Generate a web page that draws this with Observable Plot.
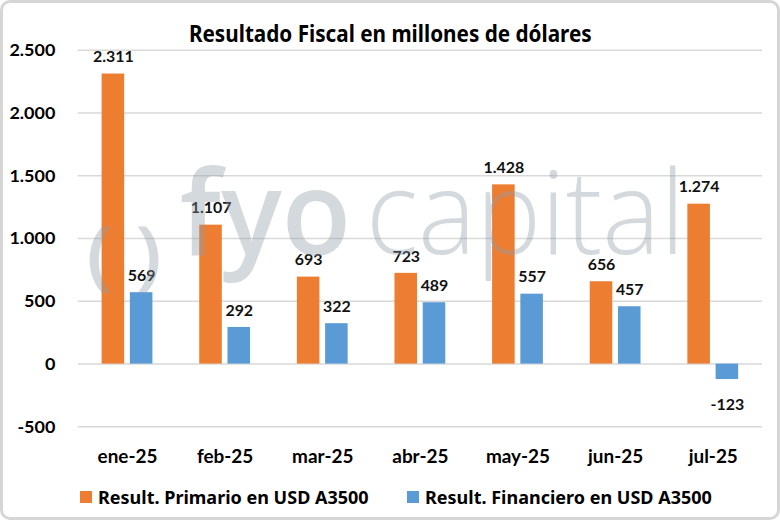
<!DOCTYPE html>
<html>
<head>
<meta charset="utf-8">
<script src="https://cdn.jsdelivr.net/npm/d3@7"></script>
<script src="https://cdn.jsdelivr.net/npm/@observablehq/plot@0.6"></script>
<style>
  html, body { margin: 0; padding: 0; background: #fff; }
  #wrap {
    position: relative; width: 780px; height: 520px; box-sizing: border-box;
    border: 3px solid #d6d6d6; border-radius: 10px; overflow: hidden; background: #fff;
  }
  #title {
    position: absolute; left: 0; right: 0; top: 15px; text-align: center;
    font-family: "Noto Sans", sans-serif;
    font-weight: bold; font-size: 23px; color: #000; line-height: 30px;
    transform: scaleX(0.9); transform-origin: 390px 50%;
  }
  #chart { position: absolute; left: -3px; top: -3px; }
  #legend {
    position: absolute; top: 481px; left: 0; width: 780px; height: 26px;
    font-family: "Noto Sans", sans-serif;
    font-weight: bold; font-size: 18px; color: #000;
  }
  .item { position: absolute; top: 0; display: flex; align-items: center; height: 26px; }
  .sw { width: 12px; height: 12px; margin-right: 6px; }
</style>
</head>
<body>
<div id="wrap">
  <div id="chart"></div>
  <div id="title">Resultado Fiscal en millones de dólares</div>
  <div id="legend"></div>
</div>
<script>
const months = ["ene-25", "feb-25", "mar-25", "abr-25", "may-25", "jun-25", "jul-25"];
const primario = [2311, 1107, 693, 723, 1428, 656, 1274];
const financiero = [569, 292, 322, 489, 557, 457, -123];
const seriesNames = ["Result. Primario en USD A3500", "Result. Financiero en USD A3500"];
const seriesColors = ["#ED7D31", "#5B9BD5"];
const yTicks = [-500, 0, 500, 1000, 1500, 2000, 2500];

const fmt = d3.formatLocale({decimal: ",", thousands: ".", grouping: [3], currency: ["$", ""], minus: "-"}).format(",d");

const prim = months.map((m, i) => ({month: m, value: primario[i]}));
const fin = months.map((m, i) => ({month: m, value: financiero[i]}));

const step = 687 / 7;
const bw = step * 0.52;          // group bandwidth
const barW = bw / 1.8 * 0.8;     // each bar
const inset = bw - barW;
const off = (bw - barW) / 2;

const labelFont = {fontSize: 16, fontWeight: "bold", fill: "#111"};
const wm = {frameAnchor: "top-left", lineAnchor: "top", fontFamily: "'Open Sans', sans-serif", fill: "#8f9ba8", fillOpacity: 0.38, textAnchor: "start"};

const chart = Plot.plot({
  width: 780,
  height: 520,
  marginTop: 50,
  marginBottom: 92,
  marginLeft: 78,
  marginRight: 15,
  style: {fontFamily: "Lato, 'Liberation Sans', sans-serif", fontWeight: "bold", fontSize: "17px", color: "#000", background: "transparent"},
  x: {domain: months, paddingInner: 0.48, paddingOuter: 0.24, label: null, axis: null},
  y: {domain: [-500, 2500], label: null, axis: null},
  marks: [
    Plot.gridY(yTicks, {stroke: "#d9d9d9", strokeOpacity: 1, strokeWidth: 1.5}),
    Plot.barY(prim, {x: "month", y: "value", fill: seriesColors[0], insetRight: inset}),
    Plot.barY(fin, {x: "month", y: "value", fill: seriesColors[1], insetLeft: inset}),
    Plot.text(prim, {x: "month", y: "value", text: d => fmt(d.value), dx: -off, dy: -17, ...labelFont}),
    Plot.text(fin.filter(d => d.value >= 0), {x: "month", y: "value", text: d => fmt(d.value), dx: off, dy: -17, ...labelFont}),
    Plot.text(fin.filter(d => d.value < 0), {x: "month", y: "value", text: d => fmt(d.value), dx: off, dy: 25, ...labelFont}),
    Plot.axisY(yTicks, {tickSize: 0, tickPadding: 23, tickFormat: fmt, fontSize: 18, fontWeight: "bold", label: null}),
    Plot.axisX({tickSize: 0, tickPadding: 23, fontSize: 19, fontWeight: "bold", label: null}),
    // watermark
    Plot.text(["fyo"], {...wm, className: "wm-fyo", dx: 102, dy: 122, fontSize: 118, fontWeight: 600}),
    Plot.text(["capital"], {...wm, className: "wm-cap", dx: 289, dy: 122, fontSize: 116, fontWeight: 300}),
    Plot.text(["( )"], {...wm, className: "wm-logo", dx: 8, dy: 178, fontSize: 76, fontWeight: 600})
  ]
});
document.getElementById("chart").appendChild(chart);
// watermark word widths
[[".wm-fyo", 172], [".wm-cap", 320], [".wm-logo", 76]].forEach(([sel, len]) => {
  chart.querySelectorAll(sel + " text").forEach(t => {
    t.setAttribute("textLength", len);
    t.setAttribute("lengthAdjust", "spacingAndGlyphs");
  });
});

const legend = document.getElementById("legend");
const lx = [77, 404];
seriesNames.forEach((name, i) => {
  const it = document.createElement("div");
  it.className = "item";
  it.style.left = lx[i] + "px";
  it.innerHTML = `<span class="sw" style="background:${seriesColors[i]}"></span><span>${name}</span>`;
  legend.appendChild(it);
});
</script>
</body>
</html>
